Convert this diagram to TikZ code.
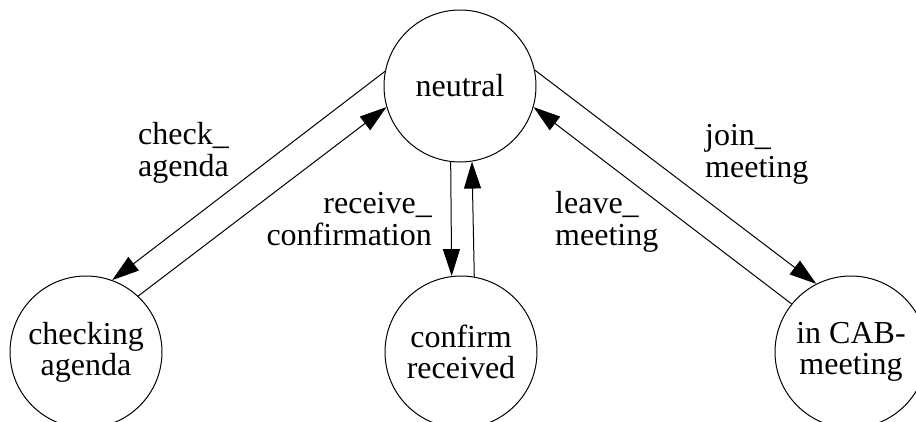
\documentclass[tikz,border=0pt]{standalone}
\usepackage{fontspec}
\setmainfont{Liberation Serif}
\usetikzlibrary{arrows.meta}
\begin{document}
\begin{tikzpicture}[x=1pt,y=-1pt,
 statenode/.style={circle,draw,line width=1pt,minimum size=152pt,inner sep=0pt,align=center,font=\fontsize{32}{31}\selectfont},
 lbl/.style={inner sep=0pt,font=\fontsize{32}{32}\selectfont},
 arr/.style={line width=1pt,-{Triangle[length=27pt,width=17pt]}}]
\useasboundingbox (0,0) rectangle (916,421);
\node[statenode] (neutral) at (460,86) {neutral};
\node[statenode] (checking) at (86,352) {checking\\agenda};
\node[statenode] (confirm) at (461,352) {confirm\\received};
\node[statenode] (cab) at (851,352) {in CAB-\\meeting};
\draw[arr] (neutral.169.4) -- (checking.70);
\draw[arr] (checking.47.5) -- (neutral.196);
\draw[arr] (neutral.263.2) -- (confirm.97.6);
\draw[arr] (confirm.80.9) -- (neutral.279.8);
\draw[arr] (neutral.12) -- (cab.117.5);
\draw[arr] (cab.141) -- (neutral.-16.8);
\node[lbl,anchor=base west,align=left] (l1) at (138,176) {check\_\\agenda};
\node[lbl,anchor=base east,align=right] (l2) at (432,245) {receive\_\\confirmation};
\node[lbl,anchor=base west,align=left] (l3) at (555,245) {leave\_\\meeting};
\node[lbl,anchor=base west,align=left] (l4) at (705,177) {join\_\\meeting};
\end{tikzpicture}
\end{document}
